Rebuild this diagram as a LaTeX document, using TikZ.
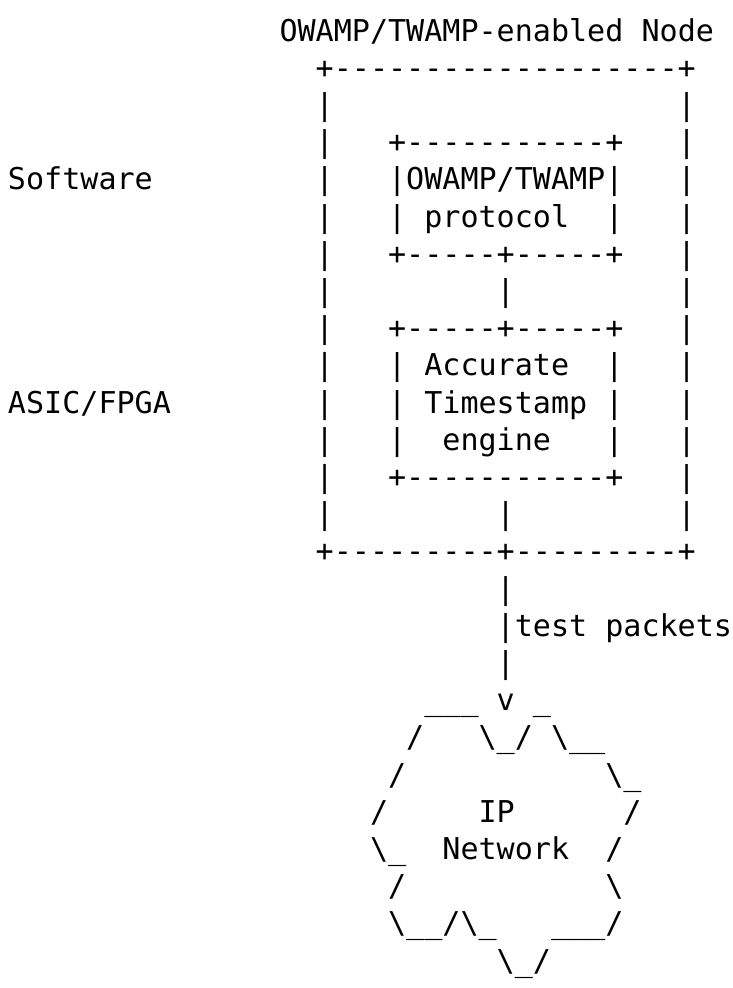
\documentclass[tikz,border=0pt]{standalone}
\usepackage{fontspec}
\setmonofont{DejaVu Sans Mono}
\tikzset{asc/.style={anchor=base west,inner sep=0pt,outer sep=0pt,
  font=\ttfamily\fontsize{30.07}{37.2}\selectfont}}
\newcommand\At[4]{\node[asc] (#1) at ({8+18.1*#2},{41+37.2*#3}) {#4};}
\newcommand\bs{\textbackslash}
\begin{document}
\begin{tikzpicture}[x=1pt,y=-1pt]
\useasboundingbox (0,0) rectangle (732,988);
% title
\At{title}{15}{0}{OWAMP/TWAMP-enabled Node}
% outer box
\At{otop}{17}{1}{+-------------------+}
\foreach \r in {2,...,13}{
  \At{ol\r}{17}{\r}{|}
  \At{or\r}{37}{\r}{|}
}
\At{obot}{17}{14}{+---------+---------+}
% inner box 1
\At{i1top}{21}{3}{+-----------+}
\At{i1a}{21}{4}{|OWAMP/TWAMP|}
\At{i1bl}{21}{5}{|}
\At{i1bt}{23}{5}{protocol}
\At{i1br}{33}{5}{|}
\At{i1bot}{21}{6}{+-----+-----+}
\At{link1}{27}{7}{|}
% inner box 2
\At{i2top}{21}{8}{+-----+-----+}
\foreach \r in {9,10,11}{
  \At{i2l\r}{21}{\r}{|}
  \At{i2r\r}{33}{\r}{|}
}
\At{i2a}{23}{9}{Accurate}
\At{i2b}{23}{10}{Timestamp}
\At{i2c}{24}{11}{engine}
\At{i2bot}{21}{12}{+-----------+}
\At{link2}{27}{13}{|}
% side labels
\At{sw}{0}{4}{Software}
\At{hw}{0}{10}{ASIC/FPGA}
% test packets line
\At{tp1}{27}{15}{|}
\At{tp2}{27}{16}{|test packets}
\At{tp3}{27}{17}{|}
% cloud
\At{c18a}{23}{18}{\_\_\_}
\At{c18b}{27}{18}{v}
\At{c18c}{29}{18}{\_}
\At{c19a}{22}{19}{/}
\At{c19b}{26}{19}{\bs\_/}
\At{c19c}{30}{19}{\bs\_\_}
\At{c20a}{21}{20}{/}
\At{c20b}{33}{20}{\bs\_}
\At{c21a}{20}{21}{/}
\At{c21b}{26}{21}{IP}
\At{c21c}{34}{21}{/}
\At{c22a}{20}{22}{\bs\_}
\At{c22b}{24}{22}{Network}
\At{c22c}{33}{22}{/}
\At{c23a}{21}{23}{/}
\At{c23b}{33}{23}{\bs}
\At{c24a}{21}{24}{\bs\_\_/\bs\_}
\At{c24b}{30}{24}{\_\_\_/}
\At{c25a}{27}{25}{\bs\_/}
\end{tikzpicture}
\end{document}
